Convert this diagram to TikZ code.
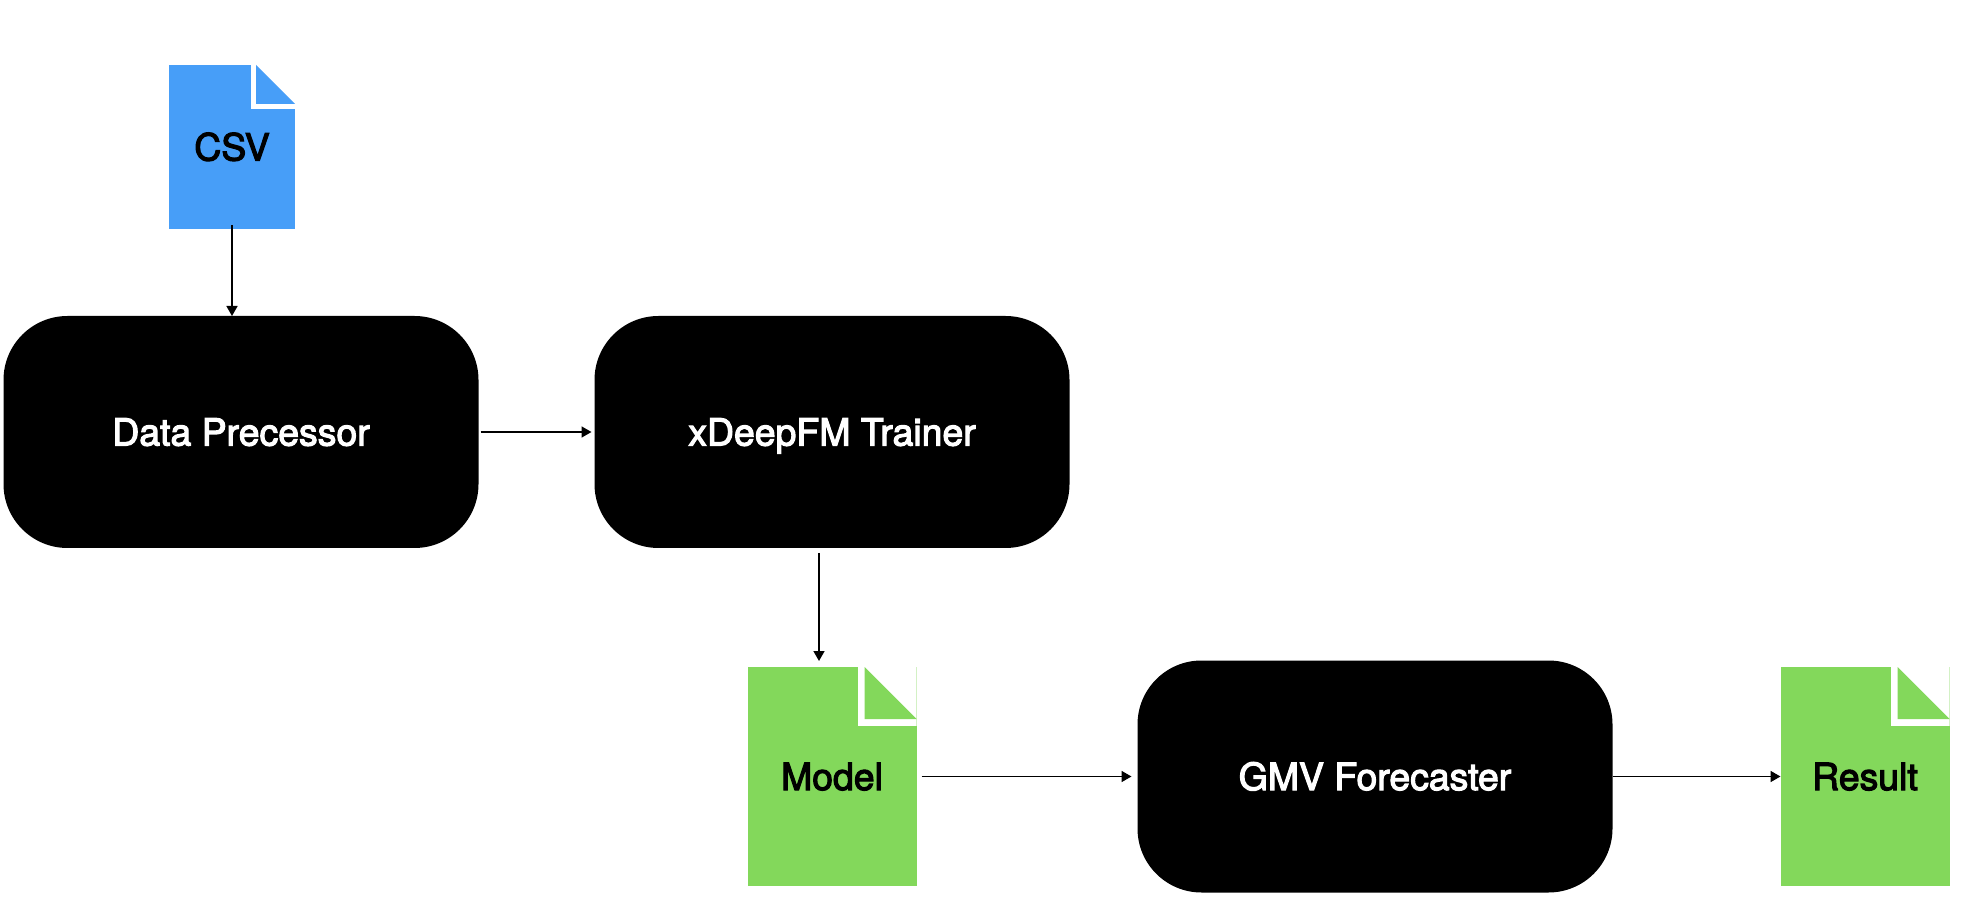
\documentclass[tikz,border=0pt]{standalone}
\usepackage{fontspec}
\setmainfont[FakeBold=3]{TeX Gyre Heros}
\usetikzlibrary{positioning, arrows.meta}
\definecolor{csvblue}{HTML}{479EF8}
\definecolor{filegreen}{HTML}{83D85B}
\tikzset{
	stage/.style={
		fill=black,
		text=white,
		rounded corners=32pt,
		minimum width=237.5pt,
		minimum height=116pt,
		inner sep=0pt,
		outer sep=0pt,
		text height=13.5pt,
		text depth=0pt,
		font=\fontsize{18.7}{22}\selectfont
	},
	docfile/.style n args={5}{
		fill=#1,
		minimum width=#2,
		minimum height=#3,
		inner sep=0pt,
		outer sep=0pt,
		text height=13.5pt,
		text depth=0pt,
		font=\fontsize{18.7}{22}\selectfont,
		path picture={
			\fill[white] (path picture bounding box.north east) ++(-#4-#5,0) rectangle ++(#4+#5,#4+#5);
			\fill[#1] (path picture bounding box.north east) ++(-#4,0) -- ++(#4,#4) -- ++(-#4,0) -- cycle;
		}
	},
	flow/.style={
		line width=0.8pt,
		-{Triangle[length=5pt,width=5.5pt]}
	}
}

\begin{document}
\begin{tikzpicture}[x=0.5pt, y=-0.5pt]
	\useasboundingbox (0,0) rectangle (1980,924);

	% pipeline stages
	\node[stage] (data) at (241,432) {Data Precessor};
	\node[stage, right=58pt of data] (trainer) {xDeepFM Trainer};

	% files
	\node[docfile={csvblue}{63pt}{82pt}{39}{5.5}, above=43.5pt of data, xshift=-4.5pt] (csv) {CSV};
	\node[docfile={filegreen}{84.5pt}{109.5pt}{52}{7}, below=59.5pt of trainer] (model) {Model};

	\node[stage, right=110.5pt of model] (forecaster) {GMV Forecaster};
	\node[docfile={filegreen}{84.5pt}{109.5pt}{52}{7}, right=84pt of forecaster] (result) {Result};

	% free end above the model file
	\coordinate (modelin) at (819,661);

	% connections
	\draw[flow, shorten <=-2pt] (csv.south) -- (csv.south |- data.north);
	\draw[flow, shorten <=1pt, shorten >=1.5pt] (data) -- (trainer);
	\draw[flow, shorten <=2.5pt] (modelin |- trainer.south) -- (modelin);
	\draw[flow, shorten <=2.5pt, shorten >=3pt] (model) -- (forecaster);
	\draw[flow] (forecaster) -- (result);
\end{tikzpicture}
\end{document}
